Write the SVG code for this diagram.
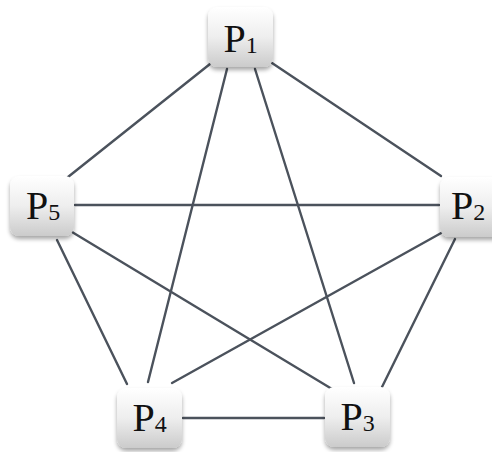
<svg xmlns="http://www.w3.org/2000/svg" width="492" height="452" viewBox="0 0 492 452">
  <defs>
    <linearGradient id="boxGrad" x1="0" y1="0" x2="0" y2="1">
      <stop offset="0" stop-color="#ffffff"/>
      <stop offset="0.5" stop-color="#eeeeee"/>
      <stop offset="1" stop-color="#cbcbcb"/>
    </linearGradient>
    <filter id="shadow" x="-20%" y="-20%" width="140%" height="150%">
      <feGaussianBlur in="SourceAlpha" stdDeviation="2.2"/>
      <feOffset dx="0" dy="3" result="b"/>
      <feComponentTransfer><feFuncA type="linear" slope="0.35"/></feComponentTransfer>
      <feMerge><feMergeNode/><feMergeNode in="SourceGraphic"/></feMerge>
    </filter>
  </defs>
  <style>
    .edge { stroke: #4b525c; stroke-width: 2.4; stroke-linecap: round; fill: none; }
    .box { fill: url(#boxGrad); filter: url(#shadow); }
    .lbl { font-family: "Liberation Serif", "Times New Roman", serif; font-size: 40px; fill: #111; text-anchor: middle; }
    .sub { font-size: 24px; }
  </style>
  <rect width="492" height="452" fill="#ffffff"/>
  <g id="connectors">
    <line class="edge" x1="210" y1="64" x2="68" y2="177"/>
    <line class="edge" x1="272" y1="63" x2="441" y2="176"/>
    <line class="edge" x1="227" y1="69" x2="148" y2="382"/>
    <line class="edge" x1="255" y1="69" x2="354" y2="383"/>
    <line class="edge" x1="75" y1="205" x2="439" y2="205"/>
    <line class="edge" x1="57" y1="240" x2="127" y2="384"/>
    <line class="edge" x1="72" y1="232" x2="332" y2="389"/>
    <line class="edge" x1="443" y1="232" x2="172" y2="383"/>
    <line class="edge" x1="455" y1="239" x2="382" y2="387"/>
    <line class="edge" x1="183" y1="418" x2="324" y2="418"/>
  </g>
  <g id="P1">
    <rect class="box" x="208" y="7" width="65" height="60" rx="9"/>
    <text class="lbl" x="240.5" y="52">P<tspan class="sub" dy="1">1</tspan></text>
  </g>
  <g id="P2">
    <rect class="box" x="440" y="177" width="65" height="60" rx="9"/>
    <text class="lbl" x="468" y="219">P<tspan class="sub" dy="1">2</tspan></text>
  </g>
  <g id="P3">
    <rect class="box" x="325" y="387" width="65" height="60" rx="9"/>
    <text class="lbl" x="357.5" y="430">P<tspan class="sub" dy="1">3</tspan></text>
  </g>
  <g id="P4">
    <rect class="box" x="117" y="388" width="65" height="60" rx="9"/>
    <text class="lbl" x="149.5" y="431">P<tspan class="sub" dy="1">4</tspan></text>
  </g>
  <g id="P5">
    <rect class="box" x="10" y="176" width="64" height="60" rx="9"/>
    <text class="lbl" x="43" y="219">P<tspan class="sub" dy="1">5</tspan></text>
  </g>
</svg>
